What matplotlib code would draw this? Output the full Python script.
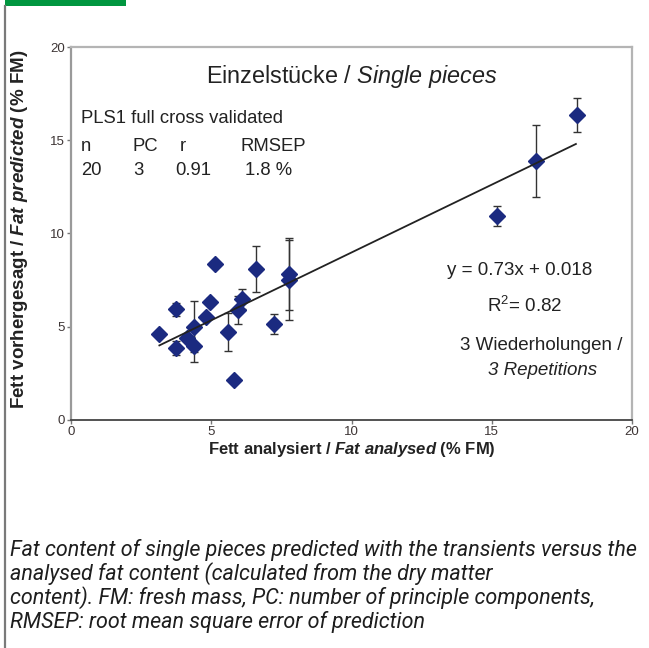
import matplotlib
matplotlib.use("Agg")
import matplotlib.pyplot as plt
from matplotlib.patches import Rectangle
from matplotlib.lines import Line2D

# ---------------- data ----------------
fat_analysed = [3.15, 3.74, 3.74, 4.15, 4.40, 4.40, 4.81, 4.96, 5.13, 5.59,
                5.80, 5.97, 6.10, 6.58, 7.25, 7.78, 7.78, 15.18, 16.57, 18.03]
fat_predicted = [4.61, 5.94, 3.84, 4.38, 5.00, 3.97, 5.54, 6.34, 8.34, 4.72,
                 2.16, 5.90, 6.47, 8.12, 5.15, 7.81, 7.51, 10.94, 13.89, 16.35]
pred_error = [0.10, 0.36, 0.38, 0.15, 1.38, 0.85, 0.15, 0.20, 0.10, 1.00,
              0.15, 0.75, 0.54, 1.23, 0.53, 1.93, 2.15, 0.56, 1.95, 0.92]
fit_x = [3.15, 18.0]
fit_y = [4.0, 14.8]
axis_ticks = [0, 5, 10, 15, 20]
axis_ticklabels = ["0", "5", "10", "15", "20"]

caption_lines = [
    "Fat content of single pieces predicted with the transients versus the",
    "analysed fat content (calculated from the dry matter",
    "content). FM: fresh mass, PC: number of principle components,",
    "RMSEP: root mean square error of prediction",
]

# ---------------- style ----------------
plt.rcParams["font.family"] = ["Liberation Sans", "DejaVu Sans"]
plt.rcParams["mathtext.fontset"] = "custom"
plt.rcParams["mathtext.rm"] = "Liberation Sans"
plt.rcParams["mathtext.it"] = "Liberation Sans:italic"
plt.rcParams["mathtext.bf"] = "Liberation Sans:bold"
plt.rcParams["mathtext.bfit"] = "Liberation Sans:bold:italic"

W, H = 649, 648
fig = plt.figure(figsize=(W / 100, H / 100), dpi=100)
fig.patch.set_facecolor("white")


def fx(px):
    return px / W


def fy(py):
    return 1 - py / H


# page decorations
fig.patches.append(Rectangle((fx(5), fy(6)), fx(126) - fx(5), 6 / H,
                             transform=fig.transFigure, color="#00963f", lw=0))
fig.lines.append(Line2D([fx(4.5), fx(4.5)], [0, fy(6)], transform=fig.transFigure,
                        color="#7a7a7a", lw=1.6))

# ---------------- axes ----------------
ax = fig.add_axes([fx(71), fy(420), (632 - 71) / W, (420 - 47) / H])
ax.set_xlim(0, 20)
ax.set_ylim(0, 20)

ax.errorbar(fat_analysed, fat_predicted, yerr=pred_error, fmt="none",
            ecolor="#333333", elinewidth=1.0, capsize=3.2, capthick=1.0, zorder=2)
ax.plot(fat_analysed, fat_predicted, "D", color="#1b2a80", mec="#1b2a80",
        ms=7.8, zorder=3)
ax.plot(fit_x, fit_y, color="#222222", lw=1.3, zorder=4)

ax.set_xticks(axis_ticks)
ax.set_xticklabels(axis_ticklabels)
ax.set_yticks(axis_ticks)
ax.set_yticklabels(axis_ticklabels)
ax.tick_params(direction="out", length=3, width=1, color="#777777",
               labelcolor="#3d3535", labelsize=9.5, pad=1.5)
ax.tick_params(axis="x", pad=1)

ax.spines["left"].set_color("#9a9a9a")
ax.spines["left"].set_linewidth(1.6)
ax.spines["bottom"].set_color("#444444")
ax.spines["bottom"].set_linewidth(1.3)
for s in ("top", "right"):
    ax.spines[s].set_color("#b4b4b4")
    ax.spines[s].set_linewidth(1.6)

# ---------------- texts inside the chart ----------------
txt = "#222222"
fig.text(fx(352), fy(83), "Einzelstücke / $\\mathit{Single\\ pieces}$",
         ha="center", va="baseline", fontsize=16.8, color=txt)
fig.text(fx(81), fy(123), "PLS1 full cross validated", ha="left", va="baseline",
         fontsize=13.3, color=txt)
for xp, s in [(81, "n"), (133, "PC"), (180, "r"), (240, "RMSEP")]:
    fig.text(fx(xp), fy(151), s, ha="left", va="baseline", fontsize=13.3, color=txt)
for xp, s in [(81, "20"), (133, "3"), (175, "0.91"), (245, "1.8 %")]:
    fig.text(fx(xp), fy(175), s, ha="left", va="baseline", fontsize=13.3, color=txt)

fig.text(fx(520), fy(275), "y = 0.73x + 0.018", ha="center", va="baseline",
         fontsize=13.5, color=txt)
fig.text(fx(525), fy(312), "$\\mathrm{R}^{2}$= 0.82", ha="center", va="baseline",
         fontsize=13.5, color=txt)
fig.text(fx(541), fy(350), "3 Wiederholungen /", ha="center", va="baseline",
         fontsize=13.5, color=txt)
fig.text(fx(543), fy(375), "3 Repetitions", ha="center", va="baseline",
         fontsize=13.5, color=txt, style="italic")

# axis labels
fig.text(fx(352), fy(454), "Fett analysiert / $\\mathbfit{Fat\\ analysed}$ (% FM)",
         ha="center", va="baseline", fontsize=12, fontweight="bold", color=txt)
fig.text(fx(20), fy(229), "Fett vorhergesagt / $\\mathbfit{Fat\\ predicted}$ (% FM)",
         ha="center", va="center", rotation=90, fontsize=13.5, fontweight="bold",
         color=txt)

# caption
for i, line in enumerate(caption_lines):
    fig.text(fx(10), fy(556 + 24 * i), line, ha="left", va="baseline",
             fontsize=15.5, style="italic", color="#1e1e1e",
             family=["Roboto", "DejaVu Sans"])

fig.savefig("out.png", dpi=100, facecolor="white")
